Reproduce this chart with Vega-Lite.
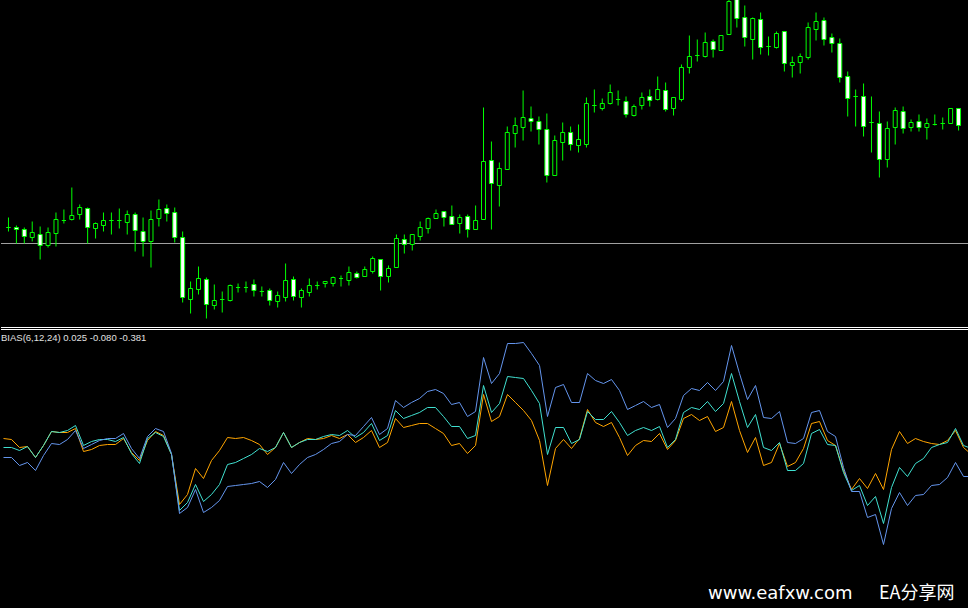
{
"$schema": "https://vega.github.io/schema/vega-lite/v6.json",
"background": "black",
"padding": 0,
"spacing": 0,
"config": {"view": {"stroke": null}},
"datasets": {"d": [
{"i":0,"o":173,"h":183,"l":169,"c":173,"b6":0.12,"b12":0.03,"b24":-0.07},
{"i":1,"o":173,"h":175,"l":157,"c":171,"b6":0.11,"b12":0.03,"b24":-0.07},
{"i":2,"o":171,"h":173,"l":157,"c":164,"b6":0.03,"b12":0.00,"b24":-0.15},
{"i":3,"o":163,"h":179,"l":159,"c":168,"b6":0.04,"b12":0.04,"b24":-0.12},
{"i":4,"o":166,"h":174,"l":141,"c":155,"b6":-0.07,"b12":-0.07,"b24":-0.20},
{"i":5,"o":155,"h":173,"l":153,"c":168,"b6":0.05,"b12":0.05,"b24":-0.05},
{"i":6,"o":167,"h":188,"l":154,"c":181,"b6":0.19,"b12":0.19,"b24":0.07},
{"i":7,"o":180,"h":191,"l":177,"c":180,"b6":0.18,"b12":0.18,"b24":0.06},
{"i":8,"o":181,"h":213,"l":180,"c":185,"b6":0.18,"b12":0.20,"b24":0.11},
{"i":9,"o":186,"h":196,"l":181,"c":193,"b6":0.22,"b12":0.25,"b24":0.20},
{"i":10,"o":192,"h":193,"l":157,"c":173,"b6":-0.01,"b12":0.05,"b24":0.02},
{"i":11,"o":172,"h":178,"l":162,"c":177,"b6":0.01,"b12":0.09,"b24":0.06},
{"i":12,"o":175,"h":188,"l":169,"c":180,"b6":0.05,"b12":0.11,"b24":0.10},
{"i":13,"o":180,"h":188,"l":166,"c":180,"b6":0.06,"b12":0.11,"b24":0.12},
{"i":14,"o":180,"h":192,"l":172,"c":180,"b6":0.06,"b12":0.09,"b24":0.12},
{"i":15,"o":178,"h":190,"l":166,"c":186,"b6":0.12,"b12":0.13,"b24":0.17},
{"i":16,"o":186,"h":188,"l":149,"c":170,"b6":-0.02,"b12":-0.03,"b24":0.02},
{"i":17,"o":169,"h":183,"l":144,"c":159,"b6":-0.10,"b12":-0.13,"b24":-0.08},
{"i":18,"o":159,"h":190,"l":133,"c":181,"b6":0.10,"b12":0.12,"b24":0.14},
{"i":19,"o":182,"h":201,"l":174,"c":191,"b6":0.19,"b12":0.18,"b24":0.22},
{"i":20,"o":192,"h":196,"l":179,"c":187,"b6":0.15,"b12":0.14,"b24":0.19},
{"i":21,"o":188,"h":193,"l":158,"c":163,"b6":-0.04,"b12":-0.04,"b24":-0.03},
{"i":22,"o":163,"h":169,"l":98,"c":103,"b6":-0.54,"b12":-0.60,"b24":-0.63},
{"i":23,"o":101,"h":119,"l":87,"c":112,"b6":-0.44,"b12":-0.52,"b24":-0.57},
{"i":24,"o":111,"h":134,"l":106,"c":122,"b6":-0.18,"b12":-0.34,"b24":-0.39},
{"i":25,"o":121,"h":123,"l":82,"c":96,"b6":-0.28,"b12":-0.51,"b24":-0.62},
{"i":26,"o":95,"h":116,"l":91,"c":100,"b6":-0.10,"b12":-0.44,"b24":-0.57},
{"i":27,"o":101,"h":109,"l":88,"c":101,"b6":0.00,"b12":-0.34,"b24":-0.50},
{"i":28,"o":100,"h":116,"l":99,"c":115,"b6":0.13,"b12":-0.14,"b24":-0.36},
{"i":29,"o":113,"h":117,"l":108,"c":113,"b6":0.12,"b12":-0.12,"b24":-0.35},
{"i":30,"o":113,"h":119,"l":108,"c":113,"b6":0.13,"b12":-0.08,"b24":-0.34},
{"i":31,"o":116,"h":121,"l":104,"c":110,"b6":0.10,"b12":-0.04,"b24":-0.33},
{"i":32,"o":109,"h":114,"l":104,"c":109,"b6":0.06,"b12":0.02,"b24":-0.31},
{"i":33,"o":110,"h":112,"l":95,"c":100,"b6":-0.04,"b12":-0.01,"b24":-0.37},
{"i":34,"o":99,"h":109,"l":93,"c":105,"b6":0.03,"b12":0.03,"b24":-0.29},
{"i":35,"o":103,"h":137,"l":99,"c":120,"b6":0.18,"b12":0.18,"b24":-0.12},
{"i":36,"o":121,"h":124,"l":100,"c":104,"b6":0.03,"b12":0.03,"b24":-0.23},
{"i":37,"o":103,"h":112,"l":93,"c":110,"b6":0.08,"b12":0.08,"b24":-0.14},
{"i":38,"o":108,"h":122,"l":104,"c":115,"b6":0.12,"b12":0.11,"b24":-0.07},
{"i":39,"o":115,"h":119,"l":111,"c":115,"b6":0.11,"b12":0.11,"b24":-0.04},
{"i":40,"o":117,"h":119,"l":113,"c":119,"b6":0.12,"b12":0.14,"b24":0.01},
{"i":41,"o":117,"h":124,"l":114,"c":123,"b6":0.15,"b12":0.16,"b24":0.07},
{"i":42,"o":122,"h":125,"l":114,"c":122,"b6":0.12,"b12":0.15,"b24":0.09},
{"i":43,"o":120,"h":134,"l":115,"c":128,"b6":0.16,"b12":0.20,"b24":0.16},
{"i":44,"o":127,"h":129,"l":122,"c":123,"b6":0.08,"b12":0.13,"b24":0.15},
{"i":45,"o":124,"h":134,"l":124,"c":131,"b6":0.13,"b12":0.18,"b24":0.24},
{"i":46,"o":129,"h":144,"l":127,"c":142,"b6":0.20,"b12":0.27,"b24":0.33},
{"i":47,"o":141,"h":141,"l":110,"c":124,"b6":0.03,"b12":0.10,"b24":0.16},
{"i":48,"o":124,"h":135,"l":118,"c":132,"b6":0.08,"b12":0.15,"b24":0.22},
{"i":49,"o":133,"h":166,"l":133,"c":162,"b6":0.32,"b12":0.40,"b24":0.50},
{"i":50,"o":161,"h":166,"l":147,"c":156,"b6":0.23,"b12":0.32,"b24":0.43},
{"i":51,"o":156,"h":166,"l":150,"c":166,"b6":0.25,"b12":0.35,"b24":0.48},
{"i":52,"o":164,"h":179,"l":160,"c":173,"b6":0.27,"b12":0.38,"b24":0.52},
{"i":53,"o":172,"h":183,"l":167,"c":182,"b6":0.27,"b12":0.43,"b24":0.59},
{"i":54,"o":182,"h":191,"l":182,"c":187,"b6":0.22,"b12":0.43,"b24":0.61},
{"i":55,"o":189,"h":189,"l":174,"c":183,"b6":0.17,"b12":0.34,"b24":0.57},
{"i":56,"o":184,"h":195,"l":176,"c":176,"b6":0.05,"b12":0.24,"b24":0.46},
{"i":57,"o":177,"h":186,"l":167,"c":183,"b6":0.07,"b12":0.24,"b24":0.48},
{"i":58,"o":184,"h":186,"l":163,"c":171,"b6":-0.03,"b12":0.12,"b24":0.34},
{"i":59,"o":171,"h":195,"l":171,"c":180,"b6":0.05,"b12":0.15,"b24":0.39},
{"i":60,"o":181,"h":293,"l":181,"c":239,"b6":0.56,"b12":0.65,"b24":0.93},
{"i":61,"o":240,"h":259,"l":171,"c":217,"b6":0.29,"b12":0.38,"b24":0.67},
{"i":62,"o":215,"h":238,"l":194,"c":232,"b6":0.34,"b12":0.47,"b24":0.77},
{"i":63,"o":231,"h":274,"l":231,"c":268,"b6":0.56,"b12":0.74,"b24":1.07},
{"i":64,"o":267,"h":283,"l":253,"c":275,"b6":0.48,"b12":0.73,"b24":1.07},
{"i":65,"o":273,"h":310,"l":260,"c":283,"b6":0.40,"b12":0.72,"b24":1.08},
{"i":66,"o":282,"h":294,"l":269,"c":279,"b6":0.30,"b12":0.60,"b24":0.97},
{"i":67,"o":279,"h":284,"l":256,"c":271,"b6":0.10,"b12":0.47,"b24":0.85},
{"i":68,"o":271,"h":287,"l":218,"c":225,"b6":-0.35,"b12":-0.04,"b24":0.34},
{"i":69,"o":225,"h":265,"l":225,"c":260,"b6":0.02,"b12":0.23,"b24":0.63},
{"i":70,"o":258,"h":278,"l":240,"c":268,"b6":0.11,"b12":0.23,"b24":0.66},
{"i":71,"o":268,"h":274,"l":250,"c":256,"b6":0.02,"b12":0.07,"b24":0.48},
{"i":72,"o":255,"h":276,"l":248,"c":261,"b6":0.12,"b12":0.11,"b24":0.48},
{"i":73,"o":256,"h":303,"l":253,"c":297,"b6":0.41,"b12":0.39,"b24":0.77},
{"i":74,"o":295,"h":311,"l":288,"c":295,"b6":0.28,"b12":0.31,"b24":0.70},
{"i":75,"o":292,"h":302,"l":290,"c":297,"b6":0.24,"b12":0.31,"b24":0.67},
{"i":76,"o":297,"h":316,"l":296,"c":308,"b6":0.28,"b12":0.39,"b24":0.71},
{"i":77,"o":301,"h":310,"l":295,"c":301,"b6":0.13,"b12":0.28,"b24":0.60},
{"i":78,"o":299,"h":304,"l":283,"c":286,"b6":-0.05,"b12":0.15,"b24":0.41},
{"i":79,"o":285,"h":296,"l":284,"c":294,"b6":0.05,"b12":0.20,"b24":0.45},
{"i":80,"o":295,"h":308,"l":291,"c":303,"b6":0.10,"b12":0.23,"b24":0.49},
{"i":81,"o":304,"h":311,"l":294,"c":300,"b6":0.09,"b12":0.20,"b24":0.43},
{"i":82,"o":301,"h":324,"l":300,"c":311,"b6":0.17,"b12":0.24,"b24":0.46},
{"i":83,"o":310,"h":318,"l":289,"c":291,"b6":0.01,"b12":0.03,"b24":0.23},
{"i":84,"o":292,"h":303,"l":285,"c":303,"b6":0.10,"b12":0.11,"b24":0.32},
{"i":85,"o":301,"h":336,"l":299,"c":333,"b6":0.32,"b12":0.38,"b24":0.55},
{"i":86,"o":333,"h":365,"l":327,"c":344,"b6":0.36,"b12":0.43,"b24":0.62},
{"i":87,"o":345,"h":361,"l":339,"c":345,"b6":0.30,"b12":0.41,"b24":0.60},
{"i":88,"o":344,"h":368,"l":343,"c":358,"b6":0.34,"b12":0.49,"b24":0.68},
{"i":89,"o":359,"h":361,"l":343,"c":351,"b6":0.19,"b12":0.39,"b24":0.60},
{"i":90,"o":350,"h":365,"l":350,"c":365,"b6":0.23,"b12":0.47,"b24":0.69},
{"i":91,"o":366,"h":405,"l":366,"c":399,"b6":0.49,"b12":0.77,"b24":1.05},
{"i":92,"o":401,"h":405,"l":373,"c":382,"b6":0.20,"b12":0.49,"b24":0.77},
{"i":93,"o":383,"h":395,"l":354,"c":363,"b6":-0.02,"b12":0.23,"b24":0.51},
{"i":94,"o":361,"h":383,"l":341,"c":382,"b6":0.13,"b12":0.36,"b24":0.65},
{"i":95,"o":381,"h":388,"l":346,"c":353,"b6":-0.15,"b12":0.03,"b24":0.33},
{"i":96,"o":354,"h":364,"l":345,"c":354,"b6":-0.12,"b12":0.00,"b24":0.32},
{"i":97,"o":353,"h":369,"l":352,"c":367,"b6":0.07,"b12":0.08,"b24":0.39},
{"i":98,"o":369,"h":369,"l":329,"c":337,"b6":-0.16,"b12":-0.20,"b24":0.08},
{"i":99,"o":335,"h":344,"l":323,"c":338,"b6":-0.12,"b12":-0.20,"b24":0.07},
{"i":100,"o":338,"h":347,"l":327,"c":344,"b6":0.02,"b12":-0.13,"b24":0.12},
{"i":101,"o":343,"h":378,"l":341,"c":373,"b6":0.27,"b12":0.17,"b24":0.38},
{"i":102,"o":371,"h":388,"l":360,"c":379,"b6":0.29,"b12":0.21,"b24":0.40},
{"i":103,"o":380,"h":383,"l":355,"c":361,"b6":0.10,"b12":0.06,"b24":0.19},
{"i":104,"o":363,"h":367,"l":348,"c":357,"b6":0.05,"b12":0.05,"b24":0.14},
{"i":105,"o":357,"h":362,"l":318,"c":323,"b6":-0.20,"b12":-0.22,"b24":-0.17},
{"i":106,"o":324,"h":329,"l":284,"c":302,"b6":-0.39,"b12":-0.40,"b24":-0.41},
{"i":107,"o":304,"h":311,"l":274,"c":304,"b6":-0.28,"b12":-0.35,"b24":-0.41},
{"i":108,"o":304,"h":317,"l":264,"c":274,"b6":-0.38,"b12":-0.55,"b24":-0.67},
{"i":109,"o":278,"h":304,"l":248,"c":278,"b6":-0.23,"b12":-0.46,"b24":-0.64},
{"i":110,"o":277,"h":289,"l":223,"c":241,"b6":-0.39,"b12":-0.73,"b24":-0.94},
{"i":111,"o":241,"h":279,"l":233,"c":272,"b6":0.01,"b12":-0.37,"b24":-0.58},
{"i":112,"o":273,"h":293,"l":256,"c":290,"b6":0.19,"b12":-0.17,"b24":-0.42},
{"i":113,"o":289,"h":294,"l":267,"c":272,"b6":0.07,"b12":-0.26,"b24":-0.55},
{"i":114,"o":273,"h":281,"l":269,"c":278,"b6":0.12,"b12":-0.13,"b24":-0.45},
{"i":115,"o":279,"h":286,"l":269,"c":273,"b6":0.09,"b12":-0.08,"b24":-0.44},
{"i":116,"o":273,"h":282,"l":261,"c":277,"b6":0.07,"b12":0.03,"b24":-0.35},
{"i":117,"o":276,"h":286,"l":275,"c":276,"b6":0.06,"b12":0.06,"b24":-0.34},
{"i":118,"o":277,"h":283,"l":271,"c":277,"b6":0.10,"b12":0.08,"b24":-0.27},
{"i":119,"o":277,"h":292,"l":277,"c":292,"b6":0.20,"b12":0.22,"b24":-0.12},
{"i":120,"o":292,"h":292,"l":270,"c":275,"b6":0.03,"b12":0.05,"b24":-0.26},
{"i":121,"b6":-0.04,"b12":0.02,"b24":-0.26}
],
"lvl": [{"p": 157}],
"sep": [{"v": 1.23}, {"v": 1.21}],
"lbl": [{"i": -0.3125, "v": 1.13, "t": "BIAS(6,12,24) 0.025 -0.080 -0.381"}],
"wm1": [{"i": 88.06, "v": -1.485, "t": "www.eafxw.com"}],
"wm2": [{"i": 109.44, "v": -1.485, "t": "EA分享网"}]
},
"vconcat": [
{
"width": 968, "height": 326,
"layer": [
{"data": {"name": "lvl"}, "mark": {"type": "rule", "color": "#a0a0a0", "strokeWidth": 1, "clip": true},
 "encoding": {"y": {"field": "p", "type": "quantitative", "scale": {"domain": [74.5, 400.5], "nice": false, "zero": false}, "axis": null}}},
{"data": {"name": "d"}, "mark": {"type": "rule", "color": "#00ff00", "strokeWidth": 1, "clip": true},
 "encoding": {
  "x": {"field": "i", "type": "quantitative", "scale": {"domain": [-0.3125, 120.6875], "nice": false, "zero": false}, "axis": null},
  "y": {"field": "l", "type": "quantitative", "axis": null},
  "y2": {"field": "h"}}},
{"data": {"name": "d"}, "mark": {"type": "bar", "orient": "vertical", "size": 4, "stroke": "#00ff00", "strokeWidth": 1, "clip": true},
 "encoding": {
  "x": {"field": "i", "type": "quantitative", "axis": null},
  "y": {"field": "o", "type": "quantitative", "axis": null},
  "y2": {"field": "c"},
  "fill": {"condition": {"test": "datum.c > datum.o", "value": "#000000"}, "value": "#ffffff"}}}
]
},
{
"width": 968, "height": 282,
"layer": [
{"data": {"name": "sep"}, "mark": {"type": "rule", "color": "#ffffff", "strokeWidth": 1},
 "encoding": {"y": {"field": "v", "type": "quantitative", "scale": {"domain": [-1.575, 1.245], "nice": false, "zero": false}, "axis": null}}},
{"data": {"name": "d"}, "mark": {"type": "line", "color": "#ffa500", "strokeWidth": 1, "clip": true},
 "encoding": {
  "x": {"field": "i", "type": "quantitative", "scale": {"domain": [-0.3125, 120.6875], "nice": false, "zero": false}, "axis": null},
  "y": {"field": "b6", "type": "quantitative", "axis": null}}},
{"data": {"name": "d"}, "mark": {"type": "line", "color": "#40e0d0", "strokeWidth": 1, "clip": true},
 "encoding": {
  "x": {"field": "i", "type": "quantitative", "axis": null},
  "y": {"field": "b12", "type": "quantitative", "axis": null}}},
{"data": {"name": "d"}, "mark": {"type": "line", "color": "#6495ed", "strokeWidth": 1, "clip": true},
 "encoding": {
  "x": {"field": "i", "type": "quantitative", "axis": null},
  "y": {"field": "b24", "type": "quantitative", "axis": null}}},
{"data": {"name": "lbl"}, "mark": {"type": "text", "align": "left", "baseline": "middle", "font": "Liberation Sans", "fontSize": 9.5, "color": "#e0e0e0"},
 "encoding": {"x": {"field": "i", "type": "quantitative", "axis": null}, "y": {"field": "v", "type": "quantitative", "axis": null}, "text": {"field": "t"}}},
{"data": {"name": "wm1"}, "mark": {"type": "text", "align": "left", "baseline": "alphabetic", "font": "DejaVu Sans", "fontSize": 18, "color": "#ffffff"},
 "encoding": {"x": {"field": "i", "type": "quantitative", "axis": null}, "y": {"field": "v", "type": "quantitative", "axis": null}, "text": {"field": "t"}}},
{"data": {"name": "wm2"}, "mark": {"type": "text", "align": "left", "baseline": "alphabetic", "font": "Noto Sans CJK SC", "fontSize": 18, "color": "#ffffff"},
 "encoding": {"x": {"field": "i", "type": "quantitative", "axis": null}, "y": {"field": "v", "type": "quantitative", "axis": null}, "text": {"field": "t"}}}
]
}
]
}
